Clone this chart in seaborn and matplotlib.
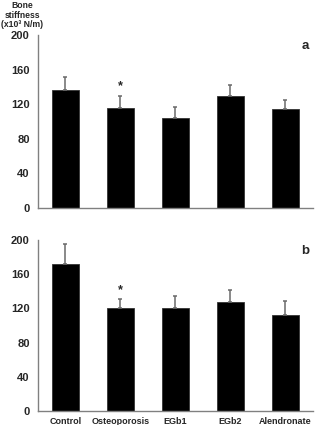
import numpy as np
import pandas as pd
import seaborn as sns
import matplotlib.pyplot as plt

groups = ['Control', 'Osteoporosis', 'EGb1', 'EGb2', 'Alendronate']
stiff_a = [137, 116, 104, 129, 114]
err_a = [14, 14, 12.5, 13, 11]
stiff_b = [171.5, 120.5, 120, 128, 112.5]
err_b = [24, 10, 14, 14, 16]
star_group = 'Osteoporosis'
y_ticks = [0, 40, 80, 120, 160, 200]

sns.set_style('white')
plt.rcParams['font.family'] = ['Liberation Sans', 'DejaVu Sans']
plt.rcParams['font.weight'] = 'bold'

fig = plt.figure(figsize=(3.15, 4.25), dpi=100)
ax_a = fig.add_axes([0.1206, 0.5106, 0.873, 0.407])
ax_b = fig.add_axes([0.1206, 0.0329, 0.873, 0.4024])


def draw_panel(ax, vals, errs, letter, show_labels):
    df = pd.DataFrame({'group': groups, 'stiffness': vals})
    sns.barplot(data=df, x='group', y='stiffness', color='black', width=0.5,
                edgecolor='#333333', linewidth=0.6, saturation=1, ax=ax)
    xs = np.arange(len(groups))
    ax.errorbar(xs, vals, yerr=[np.zeros(len(vals)), errs], fmt='none',
                ecolor='#6a6a6a', elinewidth=1.1, capsize=1.5, capthick=1.1, zorder=1)
    i = groups.index(star_group)
    ax.text(i, vals[i] + errs[i] + 4, '*', ha='center', va='bottom',
            fontsize=9, fontweight='bold')
    ax.set_xlim(-0.5, 4.5)
    ax.set_ylim(0, 200)
    ax.set_yticks(y_ticks)
    ax.set_xlabel('')
    ax.set_ylabel('')
    ax.set_xticks(xs + 0.5, minor=True)
    ax.tick_params(axis='x', which='minor', length=2, width=0.6, color='#888888', direction='out')
    ax.tick_params(axis='x', which='major', length=0, labelsize=6.5, pad=4)
    ax.tick_params(axis='y', length=0, labelsize=8, pad=6)
    if not show_labels:
        ax.set_xticklabels([])
    for lab in ax.get_xticklabels() + ax.get_yticklabels():
        lab.set_fontweight('bold')
    for s in ['top', 'right']:
        ax.spines[s].set_visible(False)
    for s in ['left', 'bottom']:
        ax.spines[s].set_color('#808080')
        ax.spines[s].set_linewidth(1.0)
    ax.text(0.985, 0.97, letter, transform=ax.transAxes, ha='right', va='top',
            fontsize=9.5, fontweight='bold')


draw_panel(ax_a, stiff_a, err_a, 'a', False)
draw_panel(ax_b, stiff_b, err_b, 'b', True)

fig.text(0.07, 0.998, 'Bone\nstiffness\n(x10\u00b3 N/m)', ha='center', va='top',
         fontsize=6.2, fontweight='bold', linespacing=1.1)

fig.savefig('out.png', dpi=100)
